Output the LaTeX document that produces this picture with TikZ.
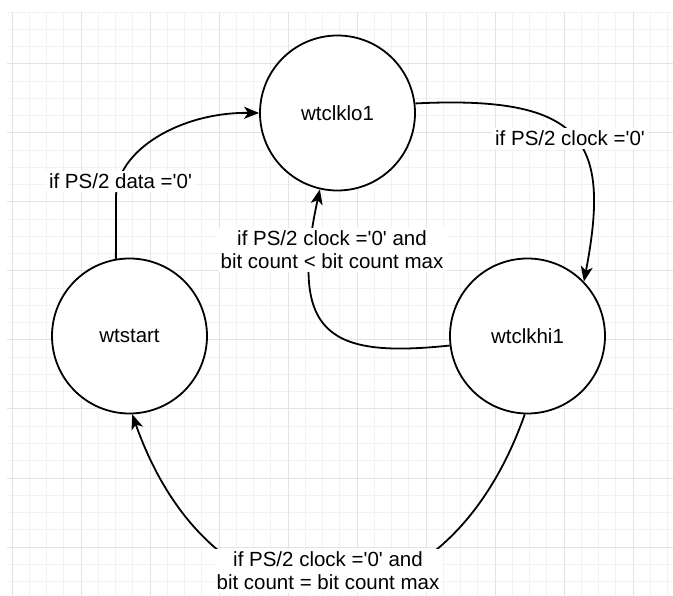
\documentclass[tikz,border=0pt]{standalone}
\usepackage{fontspec}
\setmainfont{Liberation Sans}[Ligatures=TeXOff]
\usetikzlibrary{arrows.meta}
\begin{document}
\begin{tikzpicture}[x=1pt,y=-1pt,
  fsmstate/.style={circle,draw=black,line width=1.8pt,fill=white,minimum size=155pt,inner sep=0pt,font=\fontsize{20.5}{24}\selectfont},
  trans/.style={draw=black,line width=1.8pt,-{Stealth[length=15pt,width=12pt,inset=4pt]}},
  cond/.style={fill=white,inner sep=3pt,align=center,font=\fontsize{20.5}{23}\selectfont},
  minorline/.style={draw=black!5,line width=1pt},
  majorline/.style={draw=black!11,line width=1pt}]
\useasboundingbox (0,0) rectangle (673,596);
\fill[white] (0,0) rectangle (673,596);
% background grid
\begin{scope}
  \clip (7,12) rectangle (673,596);
  \foreach \k in {0,...,38} \draw[minorline] ({12+17.25*\k},12) -- ({12+17.25*\k},596);
  \foreach \k in {0,...,34} \draw[minorline] (7,{12.25+17.25*\k}) -- (673,{12.25+17.25*\k});
  \foreach \k in {0,...,9} \draw[majorline] ({12+69*\k},12) -- ({12+69*\k},596);
  \foreach \k in {0,...,7} \draw[majorline] (7,{64+69*\k}) -- (673,{64+69*\k});
\end{scope}
% states
\node[fsmstate] (lo) at (337.5,113) {wtclklo1};
\node[fsmstate] (st) at (129.5,336) {wtstart};
\node[fsmstate] (hi) at (527.5,336) {wtclkhi1};
% transitions
\draw[trans] (st.100) -- (116,197) .. controls (116,150) and (181,112) .. (lo.west);
\draw[trans] (lo.7) .. controls (585,95) and (611,141) .. (hi.44);
\draw[trans] (hi.187) .. controls (330,358) and (288,336) .. (lo.257);
\draw[trans] (hi.268) .. controls (442,649) and (215,649) .. (st.272);
% conditions
\node[cond,anchor=base] (c1) at (120.5,189) {if PS/2 data ='0'};
\node[cond,anchor=base] (c2) at (570,146) {if PS/2 clock ='0'};
\node[cond] (c3) at (332,250) {if PS/2 clock ='0' and\\bit count < bit count max};
\node[cond] (c4) at (328,571) {if PS/2 clock ='0' and\\bit count = bit count max};
\end{tikzpicture}
\end{document}
